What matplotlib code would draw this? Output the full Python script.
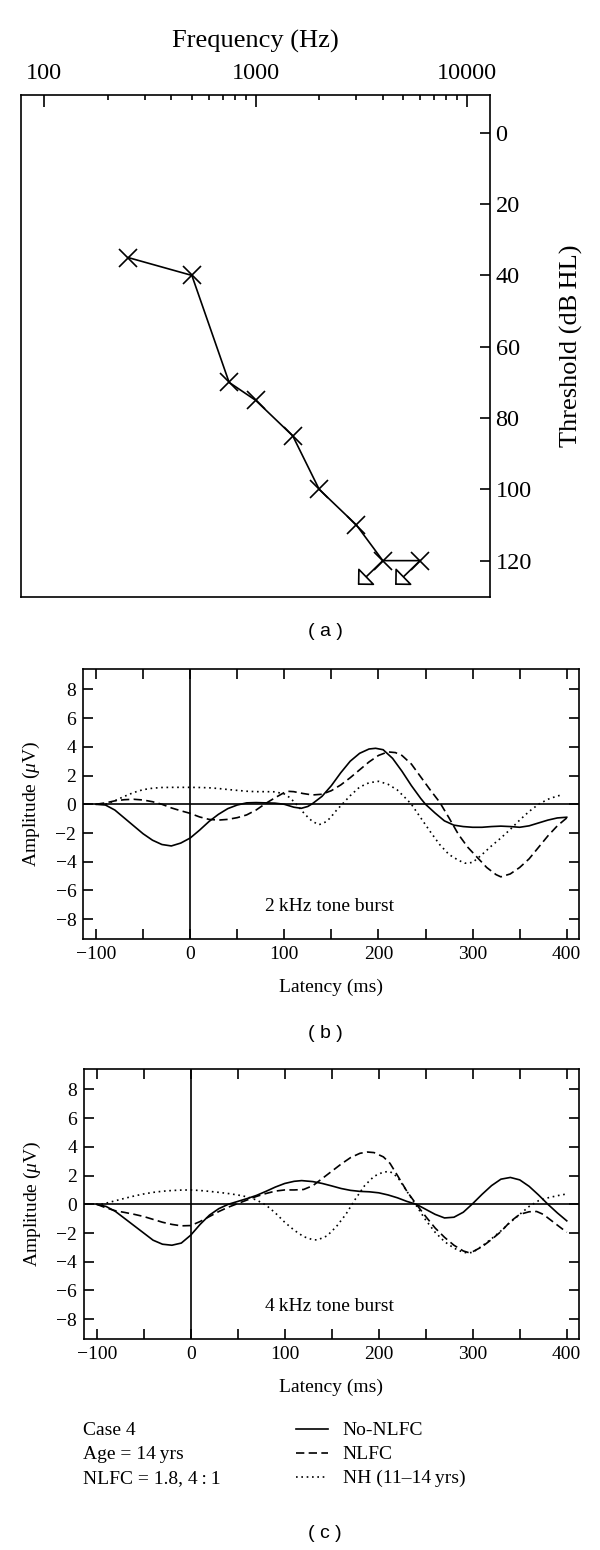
import matplotlib
matplotlib.use("Agg")
import matplotlib.pyplot as plt
from matplotlib.lines import Line2D
from matplotlib.transforms import offset_copy
from matplotlib.ticker import FixedLocator, NullFormatter

plt.rcParams['font.family'] = ['Liberation Serif', 'DejaVu Serif']
plt.rcParams['mathtext.fontset'] = 'custom'
plt.rcParams['mathtext.rm'] = 'Liberation Serif'
plt.rcParams['mathtext.it'] = 'Liberation Serif:italic'
plt.rcParams['axes.unicode_minus'] = True

# ---------------- Panel (a): audiogram ----------------
freq_hz = [250, 500, 750, 1000, 1500, 2000, 3000, 4000, 6000]
threshold_db = [35, 40, 70, 75, 85, 100, 110, 120, 120]
no_response_hz = [4000, 6000]
no_response_db = [120, 120]
freq_ticks = [100, 1000, 10000]
freq_tick_labels = ['100', '1000', '10000']
freq_minor_ticks = [200, 300, 400, 500, 600, 700, 800, 900,
                    2000, 3000, 4000, 5000, 6000, 7000, 8000, 9000]
thr_ticks = [0, 20, 40, 60, 80, 100, 120]

# ---------------- Panel (b): 2 kHz tone burst ----------------
b_solid_lat = [-100, -90, -80, -70, -60, -50, -40, -30, -20, -10, 0, 10, 20, 30, 40, 50, 60, 70, 80, 90, 100,
               110, 118, 125, 130, 140, 150, 160, 170, 180, 190, 197, 205, 215, 225, 235, 245,
               250, 260, 270, 280, 290, 300, 310, 320, 330, 340, 350, 360, 370, 380, 390, 400]
b_solid_amp = [0, -0.05, -0.4, -0.95, -1.5, -2.05, -2.5, -2.8, -2.9, -2.7, -2.35, -1.8, -1.2, -0.7, -0.3, -0.05,
               0.1, 0.12, 0.1, 0.08, 0.0, -0.2, -0.28, -0.15, 0.05, 0.55, 1.3, 2.2, 3.0, 3.55, 3.85, 3.9,
               3.8, 3.2, 2.3, 1.3, 0.4, 0.0, -0.6, -1.15, -1.45, -1.55, -1.6, -1.6, -1.55, -1.52, -1.55,
               -1.6, -1.5, -1.3, -1.1, -0.95, -0.9]

b_dash_lat = [-100, -90, -80, -70, -60, -50, -40, -30, -20, -10, 0, 10, 20, 30, 40, 50, 60, 70, 80, 90, 100,
              105, 110, 120, 130, 140, 150, 160, 170, 180, 190, 200, 210, 218, 225, 235, 245, 255, 265,
              275, 285, 295, 305, 315, 325, 330, 340, 350, 360, 370, 380, 390, 400]
b_dash_amp = [0, 0.1, 0.24, 0.32, 0.35, 0.3, 0.18, 0.0, -0.25, -0.45, -0.63, -0.88, -1.05, -1.1, -1.05, -0.93,
              -0.74, -0.4, 0.05, 0.45, 0.82, 0.9, 0.88, 0.75, 0.65, 0.7, 0.95, 1.35, 1.85, 2.4, 2.95, 3.4,
              3.65, 3.6, 3.4, 2.8, 1.9, 1.0, 0.15, -0.95, -2.1, -3.0, -3.7, -4.4, -4.9, -5.05, -4.85, -4.4,
              -3.8, -3.0, -2.2, -1.5, -0.95]

b_dot_lat = [-90, -80, -70, -60, -50, -40, -30, -20, -10, 0, 10, 20, 30, 40, 50, 60, 70, 80, 90, 100,
             105, 110, 115, 120, 125, 130, 137, 145, 150, 155, 160, 170, 180, 190, 200, 210, 220, 230,
             235, 245, 255, 265, 275, 285, 292, 300, 310, 320, 330, 340, 350, 360, 370, 380, 390, 395]
b_dot_amp = [0.0, 0.25, 0.55, 0.82, 1.02, 1.12, 1.17, 1.18, 1.18, 1.18, 1.17, 1.15, 1.1, 1.03, 0.97, 0.91,
             0.88, 0.88, 0.87, 0.72, 0.5, 0.2, -0.15, -0.55, -0.9, -1.2, -1.42, -1.2, -0.85, -0.45, -0.1,
             0.6, 1.2, 1.5, 1.6, 1.4, 1.0, 0.35, 0.0, -0.95, -1.9, -2.8, -3.5, -3.9, -4.1, -4.05, -3.5,
             -2.9, -2.35, -1.75, -1.1, -0.5, 0.0, 0.35, 0.58, 0.65]

# ---------------- Panel (c): 4 kHz tone burst ----------------
c_solid_lat = [-100, -90, -80, -70, -60, -50, -40, -30, -20, -10, 0, 10, 20, 30, 40, 50, 60, 70, 80, 90, 100,
               110, 118, 130, 140, 150, 160, 170, 180, 190, 200, 210, 220, 230, 240, 250, 260, 270, 280,
               290, 300, 310, 320, 330, 340, 350, 360, 370, 380, 390, 400]
c_solid_amp = [0, -0.15, -0.5, -1.0, -1.5, -2.0, -2.5, -2.78, -2.85, -2.7, -2.15, -1.4, -0.75, -0.3, 0.0, 0.2,
               0.4, 0.62, 0.9, 1.2, 1.45, 1.6, 1.65, 1.58, 1.45, 1.28, 1.1, 0.97, 0.9, 0.87, 0.8, 0.65,
               0.45, 0.2, 0.0, -0.35, -0.7, -0.95, -0.9, -0.55, 0.05, 0.7, 1.3, 1.75, 1.87, 1.7, 1.25,
               0.65, 0.0, -0.6, -1.15]

c_dash_lat = [-100, -90, -80, -70, -60, -50, -40, -30, -20, -10, 0, 10, 20, 30, 40, 50, 60, 70, 80, 90, 100,
              110, 120, 130, 140, 150, 160, 170, 180, 188, 195, 205, 212, 220, 230, 240, 250, 260, 270,
              280, 290, 295, 300, 310, 320, 330, 340, 350, 360, 368, 375, 385, 400]
c_dash_amp = [0, -0.25, -0.45, -0.57, -0.7, -0.85, -1.05, -1.25, -1.4, -1.5, -1.48, -1.2, -0.85, -0.5, -0.2,
              0.05, 0.3, 0.55, 0.75, 0.92, 1.0, 1.0, 1.03, 1.3, 1.8, 2.3, 2.8, 3.25, 3.55, 3.64, 3.6, 3.3,
              2.85, 2.0, 0.9, 0.0, -0.85, -1.65, -2.3, -2.85, -3.25, -3.35, -3.3, -2.95, -2.45, -1.9,
              -1.2, -0.7, -0.52, -0.5, -0.7, -1.2, -1.95]

c_dot_lat = [-95, -90, -80, -70, -60, -50, -40, -30, -20, -10, 0, 10, 20, 30, 40, 50, 60, 70, 80, 90, 100,
             110, 120, 130, 135, 145, 155, 165, 175, 185, 195, 205, 212, 220, 230, 240, 250, 260, 270,
             280, 290, 295, 300, 310, 320, 330, 340, 350, 360, 370, 380, 390, 400]
c_dot_amp = [0, 0.08, 0.25, 0.42, 0.58, 0.72, 0.83, 0.91, 0.96, 0.99, 1.0, 0.96, 0.9, 0.83, 0.75, 0.65,
             0.52, 0.3, -0.05, -0.6, -1.25, -1.8, -2.25, -2.47, -2.48, -2.2, -1.55, -0.7, 0.35, 1.3, 1.95,
             2.25, 2.28, 1.9, 0.9, -0.1, -1.1, -1.95, -2.6, -3.05, -3.35, -3.38, -3.35, -2.9, -2.4, -1.85,
             -1.25, -0.7, -0.15, 0.25, 0.45, 0.6, 0.72]

lat_ticks = [-100, -50, 0, 50, 100, 150, 200, 250, 300, 350, 400]
amp_ticks = [-8, -6, -4, -2, 0, 2, 4, 6, 8]
series_names = ['No-NLFC', 'NLFC', 'NH (11\u201314\u2009yrs)']
case_info = ['Case 4', 'Age = 14\u2009yrs', 'NLFC = 1.8, 4\u2009:\u20091']

# ---------------- Figure ----------------
W, H = 600, 1550
fig = plt.figure(figsize=(W / 100, H / 100), dpi=100)


def rect(l, t, r, b):
    return [l / W, 1 - b / H, (r - l) / W, (b - t) / H]


LW = 1.2
styles = ['-', (0, (5, 2.6)), (0, (1, 2.2))]

# Panel (a)
axA = fig.add_axes(rect(21, 95, 490, 597))
axA.set_xscale('log')
axA.set_xlim(77.8, 12850)
axA.set_ylim(130.2, -10.6)
axA.plot(freq_hz, threshold_db, color='black', lw=1.2, marker='x', ms=13, mew=1.2)
for f, t in zip(no_response_hz, no_response_db):
    tr = offset_copy(axA.transData, fig=fig, x=-18, y=-17.5, units='points')
    axA.annotate('', xy=(f, t), xycoords=tr, xytext=(f, t), textcoords='data',
                 arrowprops=dict(arrowstyle='-|>,head_length=0.75,head_width=0.75', fc='white',
                                 ec='black', lw=1.2, shrinkA=0, shrinkB=0,
                                 connectionstyle='arc3,rad=0', mutation_scale=10))
axA.xaxis.tick_top()
axA.xaxis.set_label_position('top')
axA.set_xticks(freq_ticks)
axA.set_xticklabels(freq_tick_labels)
axA.xaxis.set_minor_locator(FixedLocator(freq_minor_ticks))
axA.xaxis.set_minor_formatter(NullFormatter())
axA.tick_params(axis='x', which='major', direction='in', length=8.5, width=1.2,
                top=True, bottom=False, labeltop=True, labelbottom=False, labelsize=17.5, pad=8)
axA.tick_params(axis='x', which='minor', direction='in', length=3.8, width=1.2, top=True, bottom=False)
axA.yaxis.tick_right()
axA.yaxis.set_label_position('right')
axA.set_yticks(thr_ticks)
axA.tick_params(axis='y', direction='in', length=7, width=1.2, right=True, left=False,
                labelright=True, labelleft=False, labelsize=17.5, pad=4)
axA.set_xlabel('Frequency (Hz)', fontsize=19)
axA.xaxis.set_label_coords(0.5, 1.094)
axA.set_ylabel('Threshold (dB\u2009HL)', fontsize=19)
axA.yaxis.set_label_coords(1.15, 0.5)
for s in axA.spines.values():
    s.set_linewidth(1.2)


def erp(ax, series, label):
    ax.axhline(0, color='black', lw=LW)
    ax.axvline(0, color='black', lw=LW)
    for (lat, amp), ls in zip(series, styles):
        ax.plot(lat, amp, color='black', lw=LW, linestyle=ls)
    ax.set_xlim(-113.5, 412.5)
    ax.set_ylim(-9.4, 9.4)
    ax.xaxis.set_major_locator(FixedLocator(lat_ticks))
    ax.set_xticklabels([(str(v).replace('-', '\u2212') if v % 100 == 0 else '') for v in lat_ticks])
    ax.set_yticks(amp_ticks)
    ax.set_yticklabels([str(v).replace('-', '\u2212') for v in amp_ticks])
    ax.tick_params(direction='in', top=True, right=True, length=7, width=1.2, labelsize=14, pad=5)
    ax.text(148, -7.12, label, ha='center', va='center', fontsize=14)
    ax.set_xlabel('Latency (ms)', fontsize=14)
    ax.xaxis.set_label_coords(0.5, -0.145)
    ax.set_ylabel('Amplitude ($\\mu$V)', fontsize=14)
    ax.yaxis.set_label_coords(-0.083, 0.5)
    for s in ax.spines.values():
        s.set_linewidth(1.2)


axB = fig.add_axes(rect(83.3, 669.3, 578.5, 939.3))
erp(axB, [(b_solid_lat, b_solid_amp), (b_dash_lat, b_dash_amp), (b_dot_lat, b_dot_amp)],
    '2\u2009kHz tone burst')
axC = fig.add_axes(rect(84, 1069.3, 578.5, 1339.3))
erp(axC, [(c_solid_lat, c_solid_amp), (c_dash_lat, c_dash_amp), (c_dot_lat, c_dot_amp)],
    '4\u2009kHz tone burst')

# Panel tags
for txt, y in [('( a )', 632), ('( b )', 1033), ('( c )', 1534)]:
    fig.text(325 / W, 1 - y / H, txt, ha='center', va='center', fontsize=14, family='Liberation Sans')

# Legend / case info
baselines = [1435, 1459, 1483]
for txt, yb in zip(case_info, baselines):
    fig.text(82.7 / W, 1 - yb / H, txt, ha='left', va='baseline', fontsize=14)
for name, ls, yb in zip(series_names, styles, baselines):
    yl = 1 - (yb - 6) / H
    fig.add_artist(Line2D([296 / W, 328 / W], [yl, yl], transform=fig.transFigure,
                          color='black', lw=LW, linestyle=ls))
    fig.text(342.7 / W, 1 - yb / H, name, ha='left', va='baseline', fontsize=14)

fig.savefig('out.png', dpi=100)
